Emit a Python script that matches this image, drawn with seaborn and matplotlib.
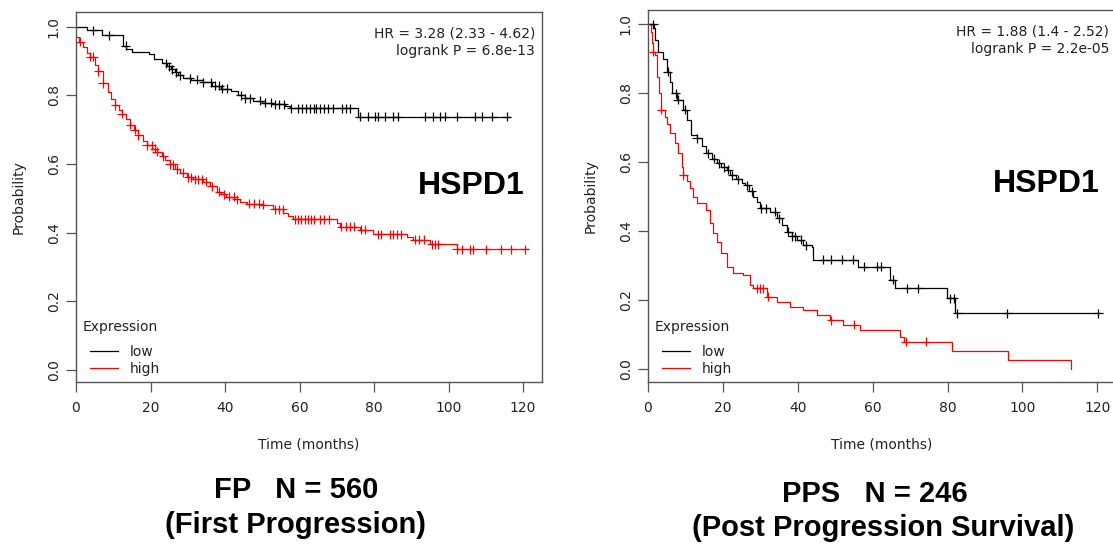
import numpy as np
import pandas as pd
import matplotlib as mpl
import matplotlib.pyplot as plt
import seaborn as sns
from matplotlib.lines import Line2D

mpl.rcParams['font.family'] = 'DejaVu Sans'

# ---- FP (First Progression), N = 560 ----
fp_low_t = [0, 3, 7, 12.5, 13.5, 15, 19.5, 21, 23, 24.5, 25.5, 26.5, 27.5, 28.7, 31, 34, 36.5, 39,
            41.5, 43.5, 45.5, 47.5, 50, 53, 56, 57.5, 75.7, 116.5]
fp_low_s = [1.0, 0.99, 0.975, 0.945, 0.935, 0.927, 0.92, 0.905, 0.893, 0.885, 0.876, 0.868, 0.858, 0.85,
            0.845, 0.838, 0.828, 0.82, 0.814, 0.80, 0.792, 0.785, 0.779, 0.774, 0.768, 0.763, 0.738, 0.738]
fp_low_cens = [4.6, 8.9, 13.4, 24.2, 25, 25.8, 26.8, 27.8, 30.5, 32.5, 34.2, 36.2, 37.2, 38.4, 39.2, 40.5,
               44.2, 45.5, 46.8, 49.5, 50.8, 52.3, 53.5, 54.6, 55.8, 57.8, 59.5, 60.8, 61.8, 62.9, 63.8,
               64.5, 65.5, 66.5, 67.6, 69, 71.4, 72.4, 73.6, 76.2, 78.4, 80.3, 81.1, 83, 85.1, 86.4, 93.7,
               95.8, 97.7, 99, 102.3, 107.1, 109, 111.7, 115.7]

fp_high_t = [0, 0.8, 2, 3, 3.8, 5, 6, 7.2, 8.5, 9.5, 10.5, 11.5, 12.3, 13.5, 14.5, 15.5, 16.7, 18, 19,
             20.5, 21.7, 23, 24, 25.2, 26.5, 28, 29.7, 31.5, 34.2, 36, 37.8, 39, 40.4, 42.5, 44, 45.8,
             50.3, 53, 55.7, 57, 58.3, 70, 71, 76.2, 79.8, 88.8, 90.6, 95, 102.2, 121.4]
fp_high_s = [0.97, 0.957, 0.94, 0.925, 0.913, 0.89, 0.87, 0.836, 0.81, 0.79, 0.772, 0.758, 0.747, 0.73,
             0.714, 0.70, 0.684, 0.668, 0.655, 0.645, 0.636, 0.622, 0.612, 0.60, 0.585, 0.575, 0.562,
             0.556, 0.548, 0.535, 0.519, 0.512, 0.505, 0.497, 0.49, 0.485, 0.481, 0.468, 0.458, 0.448,
             0.439, 0.428, 0.418, 0.408, 0.396, 0.388, 0.379, 0.367, 0.352, 0.352]
fp_high_cens = [1.1, 3.8, 4.6, 6, 7.2, 10.5, 12.3, 14.5, 15.8, 16.7, 19, 20.3, 21.2, 21.7, 23.4, 25.2,
                26.1, 27, 28.8, 30.1, 31, 31.9, 32.8, 33.7, 35, 36.5, 38.5, 39.7, 41, 42.3, 43.2, 46.5,
                47.8, 49.2, 50.3, 53.4, 54.5, 55.5, 58.8, 59.7, 60.5, 61.4, 62.3, 63.2, 64, 65.5, 66.6,
                67.8, 71.2, 72.5, 73.6, 74.5, 76.6, 77.5, 81.1, 82, 84.2, 85.2, 86.3, 87.3, 91, 92.2,
                93.3, 95.5, 96.4, 97.3, 102.2, 103.5, 105.7, 106.6, 110.2, 114.2, 116.9, 120.5]

# ---- PPS (Post Progression Survival), N = 246 ----
pps_low_t = [0, 1.5, 1.9, 2.8, 4.1, 5, 5.9, 6.3, 7.7, 9.4, 10.3, 11.6, 13, 14.3, 15.6, 17, 18.3, 19.6,
             21, 22, 23.6, 25, 25.9, 27, 28.1, 29, 29.9, 32.6, 34.4, 35.8, 37.1, 38.5, 39.7, 41.5, 43.7,
             44.1, 56.1, 64.6, 65.9, 79.8, 82.1, 120.2]
pps_low_s = [1.0, 0.988, 0.954, 0.92, 0.90, 0.862, 0.833, 0.799, 0.78, 0.751, 0.722, 0.678, 0.669,
             0.645, 0.625, 0.61, 0.596, 0.585, 0.577, 0.562, 0.55, 0.54, 0.533, 0.515, 0.499, 0.483,
             0.466, 0.456, 0.437, 0.418, 0.398, 0.385, 0.374, 0.359, 0.354, 0.316, 0.297, 0.258,
             0.234, 0.205, 0.161, 0.161]
pps_low_cens = [1.4, 5.3, 7.4, 8, 9.9, 13, 16, 17.5, 19, 20.3, 21.4, 22.5, 24, 26.5, 27.7, 30.3, 31.5,
                34, 35, 37.5, 38.5, 39.3, 40.8, 42.3, 46.8, 49, 51.7, 54.8, 57.6, 61.2, 62.1, 65.4,
                69.1, 72.2, 80.7, 81.6, 82.6, 96, 120.2]

pps_high_t = [0, 0.7, 1.0, 1.4, 1.9, 2.3, 3.0, 3.6, 4.5, 5.2, 5.9, 7.2, 8.1, 9, 9.4, 10.3, 11.2, 12.1,
              13, 15.6, 16.5, 17.4, 18.3, 19.5, 21, 22.8, 25.4, 27.2, 28, 31.7, 34.4, 38, 41.5, 45.1,
              48.6, 52.2, 56.7, 67.2, 68.5, 81.3, 96.1, 113.1]
pps_high_s = [1.0, 0.978, 0.944, 0.92, 0.91, 0.847, 0.80, 0.751, 0.731, 0.71, 0.683, 0.654, 0.625,
              0.586, 0.562, 0.545, 0.524, 0.50, 0.48, 0.46, 0.422, 0.395, 0.369, 0.335, 0.297, 0.277,
              0.272, 0.243, 0.234, 0.21, 0.195, 0.181, 0.171, 0.157, 0.142, 0.128, 0.113, 0.094,
              0.079, 0.052, 0.026, 0.0]
pps_high_cens = [1.4, 3.6, 9.4, 29, 29.9, 30.7, 32.1, 48.9, 55, 68.9, 74.2]

palette = {'low': 'black', 'high': '#FF0000'}
frame_col = '#555555'
text_col = '#222222'


def surv_at(times, surv, x):
    idx = np.searchsorted(times, x, side='right') - 1
    return np.asarray(surv)[idx]


def km_panel(ax, low_t, low_s, low_c, high_t, high_s, high_c, hr, pval, xmax, ylim):
    curves = pd.concat([
        pd.DataFrame({'time': low_t, 'surv': low_s, 'group': 'low'}),
        pd.DataFrame({'time': high_t, 'surv': high_s, 'group': 'high'}),
    ])
    marks = pd.concat([
        pd.DataFrame({'time': low_c, 'surv': surv_at(low_t, low_s, low_c), 'group': 'low'}),
        pd.DataFrame({'time': high_c, 'surv': surv_at(high_t, high_s, high_c), 'group': 'high'}),
    ])
    sns.lineplot(data=curves, x='time', y='surv', hue='group', palette=palette, estimator=None,
                 drawstyle='steps-post', linewidth=0.9, legend=False, ax=ax)
    sns.scatterplot(data=marks, x='time', y='surv', hue='group', palette=palette, marker='+',
                    s=42, linewidth=0.9, legend=False, ax=ax, zorder=3)

    ax.set_xlim(0, xmax)
    ax.set_ylim(*ylim)
    ax.set_xticks(range(0, 121, 20))
    ax.set_yticks([0, 0.2, 0.4, 0.6, 0.8, 1.0])
    ax.set_yticklabels(['0.0', '0.2', '0.4', '0.6', '0.8', '1.0'], rotation=90, va='center')
    ax.tick_params(axis='both', direction='out', length=7, width=0.9, color=frame_col,
                   labelsize=10, labelcolor=text_col)
    ax.tick_params(axis='x', pad=7)
    ax.tick_params(axis='y', pad=4)
    for sp in ax.spines.values():
        sp.set_color(frame_col)
        sp.set_linewidth(1.0)

    ax.set_xlabel('Time (months)', fontsize=10, color=text_col)
    ax.set_ylabel('Probability', fontsize=10, color=text_col)
    ax.xaxis.set_label_coords(0.5, -0.15)
    ax.yaxis.set_label_coords(-0.108, 0.5)

    ax.text(0.985, 0.96, hr + '\n' + pval, transform=ax.transAxes, ha='right', va='top',
            fontsize=10, color=text_col, linespacing=1.3)
    ax.text(120.5, 0.535, 'HSPD1', ha='right', va='center', fontsize=23, fontweight='bold',
            family='Liberation Sans', color='black')

    # legend: title placed separately to get the wider gap seen in the original
    ax.text(0.015, 0.149, 'Expression', transform=ax.transAxes, ha='left', va='center',
            fontsize=10, color=text_col)
    handles = [Line2D([], [], color=palette['low'], lw=0.9),
               Line2D([], [], color=palette['high'], lw=0.9)]
    leg = ax.legend(handles, ['low', 'high'], loc='lower left',
                    bbox_to_anchor=(0.0, -0.02), frameon=False, fontsize=10,
                    handlelength=2.0, handletextpad=0.9, labelspacing=0.2, borderpad=0.5)
    for t in leg.get_texts():
        t.set_color(text_col)


fig = plt.figure(figsize=(11.13, 5.44), dpi=100)
ax1 = fig.add_axes([76 / 1113, 1 - 382 / 544, 466 / 1113, 370 / 544])
ax2 = fig.add_axes([648 / 1113, 1 - 382 / 544, 468 / 1113, 372 / 544])

km_panel(ax1, fp_low_t, fp_low_s, fp_low_cens, fp_high_t, fp_high_s, fp_high_cens,
         'HR = 3.28 (2.33 - 4.62)', 'logrank P = 6.8e-13', 125.1, (-0.035, 1.043))
km_panel(ax2, pps_low_t, pps_low_s, pps_low_cens, pps_high_t, pps_high_s, pps_high_cens,
         'HR = 1.88 (1.4 - 2.52)', 'logrank P = 2.2e-05', 125.0, (-0.0377, 1.0406))

title_kw = dict(ha='center', va='center', fontsize=21, fontweight='bold', family='Liberation Sans')
fig.text(296 / 1113, 1 - 490 / 544, 'FP   N = 560', **title_kw)
fig.text(296 / 1113, 1 - 525 / 544, '(First Progression)', **title_kw)
fig.text(875 / 1113, 1 - 494 / 544, 'PPS   N = 246', **title_kw)
fig.text(883 / 1113, 1 - 528 / 544, '(Post Progression Survival)', **title_kw)

fig.savefig('out.png', dpi=100)
